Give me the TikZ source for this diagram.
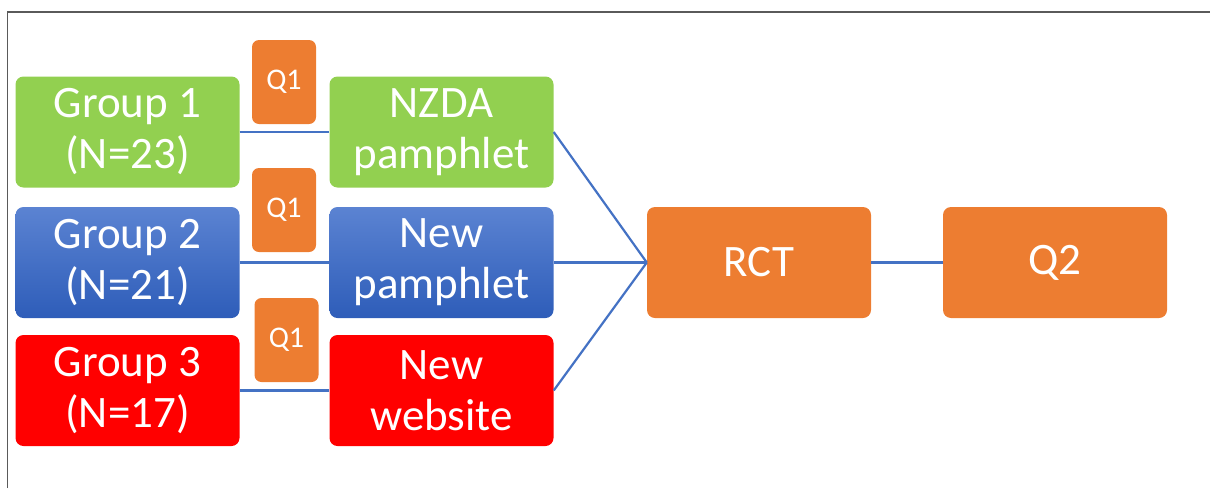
\documentclass[tikz,border=0pt]{standalone}
\usepackage{fontspec}
\setmainfont{Carlito}
\definecolor{boxgreen}{HTML}{92D050}
\definecolor{boxorange}{HTML}{ED7D31}
\definecolor{boxred}{HTML}{FF0000}
\definecolor{bluetop}{HTML}{5B83D2}
\definecolor{bluebot}{HTML}{2E5DB9}
\definecolor{linkblue}{HTML}{4472C4}
\definecolor{framegray}{HTML}{5A5A5A}
\tikzset{
  block/.style={rounded corners=8pt, align=center, text=white, inner sep=0pt,
    minimum width=224pt, minimum height=111pt,
    font=\fontsize{45}{51}\selectfont},
  greenbox/.style={block, fill=boxgreen},
  bluebox/.style={block, top color=bluetop, bottom color=bluebot},
  redbox/.style={block, fill=boxred},
  orangebox/.style={block, fill=boxorange},
  qbox/.style={rounded corners=7pt, fill=boxorange, text=white, inner sep=0pt,
    minimum width=64pt, minimum height=84pt, font=\fontsize{30}{34}\selectfont},
  link/.style={draw=linkblue, line width=2.2pt}
}
\begin{document}
\begin{tikzpicture}[x=1pt,y=-1pt]
  \useasboundingbox (0,0) rectangle (1210,488);
  % outer frame (top and left edges)
  \draw[framegray, line width=1.6pt] (7.5,488) -- (7.5,12) -- (1210,12);

  % study groups
  \node[greenbox] (g1) at (127.5,132) {Group 1\\(N=23)};
  \node[bluebox]  (g2) at (127.5,262.5) {Group 2\\(N=21)};
  \node[redbox]   (g3) at (127.5,390.5) {Group 3\\(N=17)};

  % interventions
  \node[greenbox] (i1) at (441.5,132) {NZDA\\pamphlet};
  \node[bluebox]  (i2) at (441.5,262.5) {New\\pamphlet};
  \node[redbox]   (i3) at (441.5,390.5) {New\\website};

  % baseline questionnaires
  \node[qbox] (q1a) at (284,82) {Q1};
  \node[qbox] (q1b) at (284,210) {Q1};
  \node[qbox] (q1c) at (286.5,340) {Q1};

  % trial and follow-up
  \node[orangebox] (rct) at (759,262.5) {RCT};
  \node[orangebox] (q2)  at (1055,262.5) {Q2};

  % connectors
  \draw[link] (g1.east) -- (i1.west);
  \draw[link] (g2.east) -- (i2.west);
  \draw[link] (g3.east) -- (i3.west);
  \draw[link] (i1.east) -- (rct.west);
  \draw[link] (i2.east) -- (rct.west);
  \draw[link] (i3.east) -- (rct.west);
  \draw[link] (rct.east) -- (q2.west);
\end{tikzpicture}
\end{document}
